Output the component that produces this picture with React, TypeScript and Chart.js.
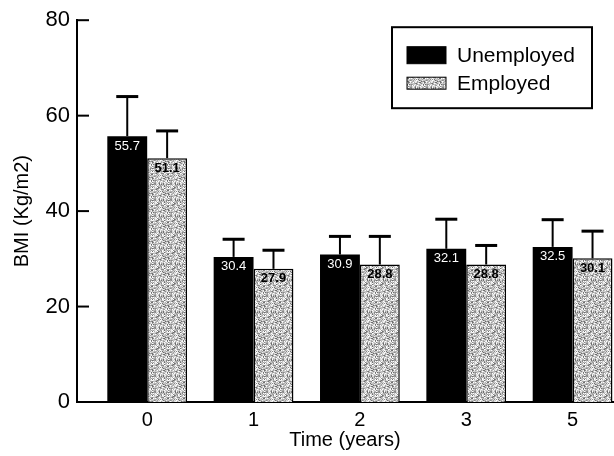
import React, { useEffect, useRef } from "react";
import { Chart, registerables } from "chart.js";

Chart.register(...registerables);

const categories = ["0", "1", "2", "3", "5"];
const seriesNames = ["Unemployed", "Employed"];
const unemployed = [55.7, 30.4, 30.9, 32.1, 32.5];
const employed = [51.1, 27.9, 28.8, 28.8, 30.1];
const unemployedErr = [8.3, 3.7, 3.8, 6.2, 5.7];
const employedErr = [5.7, 3.9, 5.9, 4.0, 5.7];
const yTicks = [0, 20, 40, 60, 80];

const FONT = "'Liberation Sans', Arial, sans-serif";

function makePattern(): CanvasPattern | string {
  const c = document.createElement("canvas");
  c.width = 16;
  c.height = 16;
  const g = c.getContext("2d");
  if (!g) return "#b8b8b8";
  const shades = ["#ffffff", "#d0d0d0", "#a0a0a0", "#8a8a8a", "#c4c4c4", "#eeeeee", "#b0b0b0", "#6e6e6e", "#dadada"];
  for (let y = 0; y < 16; y++) {
    for (let x = 0; x < 16; x++) {
      const h = Math.abs(((x * 73856093) ^ (y * 19349663) ^ ((x + y) * 83492791)) % shades.length);
      g.fillStyle = shades[h];
      g.fillRect(x, y, 1, 1);
    }
  }
  const p = g.createPattern(c, "repeat");
  return p || "#b8b8b8";
}

const errorBarsPlugin = {
  id: "errorBars",
  afterDatasetsDraw(chart: any) {
    const ctx = chart.ctx;
    const yScale = chart.scales.y;
    const errs = [unemployedErr, employedErr];
    const vals = [unemployed, employed];
    ctx.save();
    ctx.strokeStyle = "#000";
    chart.data.datasets.forEach((_: any, di: number) => {
      const meta = chart.getDatasetMeta(di);
      meta.data.forEach((el: any, i: number) => {
        const top = yScale.getPixelForValue(vals[di][i] + errs[di][i]);
        ctx.lineWidth = 2;
        ctx.beginPath();
        ctx.moveTo(el.x, el.y);
        ctx.lineTo(el.x, top);
        ctx.stroke();
        ctx.lineWidth = 3;
        ctx.beginPath();
        ctx.moveTo(el.x - 11, top);
        ctx.lineTo(el.x + 11, top);
        ctx.stroke();
      });
    });
    ctx.restore();
  },
};

const valueLabelsPlugin = {
  id: "valueLabels",
  afterDatasetsDraw(chart: any) {
    const ctx = chart.ctx;
    const vals = [unemployed, employed];
    ctx.save();
    ctx.textAlign = "center";
    ctx.textBaseline = "middle";
    chart.data.datasets.forEach((_: any, di: number) => {
      const meta = chart.getDatasetMeta(di);
      meta.data.forEach((el: any, i: number) => {
        ctx.font = di === 0 ? `13px ${FONT}` : `bold 13px ${FONT}`;
        ctx.fillStyle = di === 0 ? "#ffffff" : "#000000";
        ctx.fillText(vals[di][i].toFixed(1), el.x, el.y + 10);
      });
    });
    ctx.restore();
  },
};

const inwardTicksPlugin = {
  id: "inwardTicks",
  afterDraw(chart: any) {
    const ctx = chart.ctx;
    const yScale = chart.scales.y;
    const left = chart.chartArea.left;
    ctx.save();
    ctx.strokeStyle = "#000";
    ctx.lineWidth = 2;
    yTicks.forEach((v) => {
      if (v === 0) return;
      const py = yScale.getPixelForValue(v);
      ctx.beginPath();
      ctx.moveTo(left, py);
      ctx.lineTo(left + 12, py);
      ctx.stroke();
    });
    ctx.restore();
  },
};

const boxLegendPlugin = {
  id: "boxLegend",
  afterDraw(chart: any) {
    const ctx = chart.ctx;
    const area = chart.chartArea;
    const boxRight = area.right - 21;
    const boxLeft = boxRight - 200;
    const boxTop = area.top + 7;
    const boxBottom = area.top + 88;
    ctx.save();
    ctx.fillStyle = "#fff";
    ctx.fillRect(boxLeft, boxTop, boxRight - boxLeft, boxBottom - boxTop);
    ctx.strokeStyle = "#000";
    ctx.lineWidth = 2;
    ctx.strokeRect(boxLeft, boxTop, boxRight - boxLeft, boxBottom - boxTop);
    const rows = [area.top + 35, area.top + 63];
    const swH = [17, 12];
    chart.data.datasets.forEach((ds: any, di: number) => {
      const cy = rows[di];
      ctx.fillStyle = ds.backgroundColor;
      ctx.fillRect(boxLeft + 15, cy - swH[di] / 2, 39, swH[di]);
      ctx.lineWidth = 1;
      ctx.strokeStyle = "#000";
      ctx.strokeRect(boxLeft + 15, cy - swH[di] / 2, 39, swH[di]);
      ctx.fillStyle = "#000";
      ctx.font = `21px ${FONT}`;
      ctx.textAlign = "left";
      ctx.textBaseline = "middle";
      ctx.fillText(ds.label, boxLeft + 65, cy + 1);
    });
    ctx.restore();
  },
};

export default function App() {
  const ref = useRef<HTMLCanvasElement | null>(null);
  useEffect(() => {
    if (!ref.current) return;
    const pattern = makePattern();
    const chart = new Chart(ref.current, {
      type: "bar",
      data: {
        datasets: [
          {
            label: seriesNames[0],
            data: unemployed.map((v, i) => ({ x: i, y: v })),
            backgroundColor: "#000000",
            borderColor: "#000000",
            borderWidth: 0,
          },
          {
            label: seriesNames[1],
            data: employed.map((v, i) => ({ x: i, y: v })),
            backgroundColor: pattern as any,
            borderColor: "#000000",
            borderWidth: 1.5,
          },
        ],
      },
      options: {
        animation: false,
        responsive: false,
        devicePixelRatio: 1,
        datasets: { bar: { categoryPercentage: 0.75, barPercentage: 1.0 } },
        layout: { padding: { top: 17, right: 1, left: 0, bottom: 0 } },
        plugins: {
          legend: { display: false },
          tooltip: { enabled: false },
        },
        scales: {
          x: {
            type: "linear",
            min: -0.66,
            max: 4.38,
            offset: false,
            grid: { display: false, drawTicks: false },
            border: { display: true, color: "#000", width: 2 },
            afterBuildTicks: (scale: any) => {
              scale.ticks = categories.map((_, i) => ({ value: i }));
            },
            afterFit: (scale: any) => {
              scale.height = 54;
            },
            ticks: {
              autoSkip: false,
              maxRotation: 0,
              padding: 6,
              color: "#000",
              font: { family: FONT, size: 20 },
              callback: (v: any) => categories[Math.round(Number(v))] ?? "",
            },
            title: {
              display: true,
              text: "Time (years)",
              color: "#000",
              font: { family: FONT, size: 20 },
              padding: { top: 0, bottom: 4 },
            },
          },
          y: {
            min: 0,
            max: 80,
            grid: { display: false, drawTicks: false },
            border: { display: true, color: "#000", width: 2 },
            afterBuildTicks: (scale: any) => {
              scale.ticks = yTicks.map((v) => ({ value: v }));
            },
            afterFit: (scale: any) => {
              scale.width = 77;
            },
            ticks: {
              padding: 7,
              color: "#000",
              font: { family: FONT, size: 22 },
            },
            title: {
              display: true,
              text: "BMI (Kg/m2)",
              color: "#000",
              font: { family: FONT, size: 20 },
              padding: { top: 10, bottom: 0 },
            },
          },
        },
      },
      plugins: [errorBarsPlugin, valueLabelsPlugin, inwardTicksPlugin, boxLegendPlugin],
    });
    return () => chart.destroy();
  }, []);
  return (
    <div style={{ position: "fixed", left: 0, top: 0, width: 614, height: 456, background: "#fff" }}>
      <canvas ref={ref} width={614} height={456} style={{ width: 614, height: 456 }} />
    </div>
  );
}
